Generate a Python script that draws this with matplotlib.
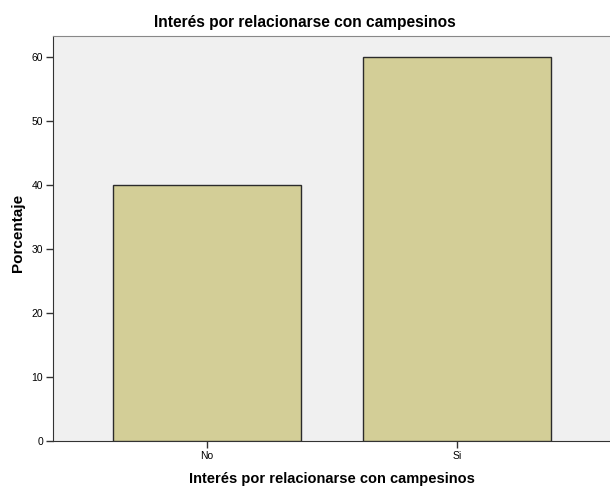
import matplotlib
matplotlib.use("Agg")
import matplotlib.pyplot as plt

categories = ["No", "Si"]
values = [40, 60]
yticks = [0, 10, 20, 30, 40, 50, 60]

fig = plt.figure(figsize=(6.10, 4.87), dpi=100)
ax = fig.add_axes([53/610, 46/487, 557/610, 405/487])
ax.set_facecolor("#F0F0F0")
x = list(range(len(categories)))
ax.bar(x, values, width=0.752, color="#D3CE97", edgecolor="#2B2B2B", linewidth=1.0, zorder=3)
ax.set_xlim(-0.616, 1.612)
ax.set_ylim(0, 63.3)
ax.set_xticks(x)
ax.set_xticklabels(categories, fontsize=7.5, family="Liberation Sans")
ax.set_yticks(yticks)
ax.set_yticklabels([str(v) for v in yticks], fontsize=7.5, family="Liberation Sans")
ax.tick_params(axis="both", length=5, width=1, color="#333333", pad=2)
ax.spines["right"].set_visible(False)
ax.spines["top"].set_color("#888888")
ax.spines["left"].set_color("#333333")
ax.spines["bottom"].set_color("#333333")
fig.text(0.5, 1 - 23/487, "Interés por relacionarse con campesinos", fontsize=11.2,
         fontweight="bold", family="Liberation Sans", ha="center", va="center")
fig.text(332/610, 1 - 479/487, "Interés por relacionarse con campesinos", fontsize=10.5,
         fontweight="bold", family="Liberation Sans", ha="center", va="center")
fig.text(18/610, 1 - 233/487, "Porcentaje", fontsize=11, fontweight="bold",
         family="Liberation Sans", ha="center", va="center", rotation=90)
fig.savefig("out.png", dpi=100, facecolor="white")
